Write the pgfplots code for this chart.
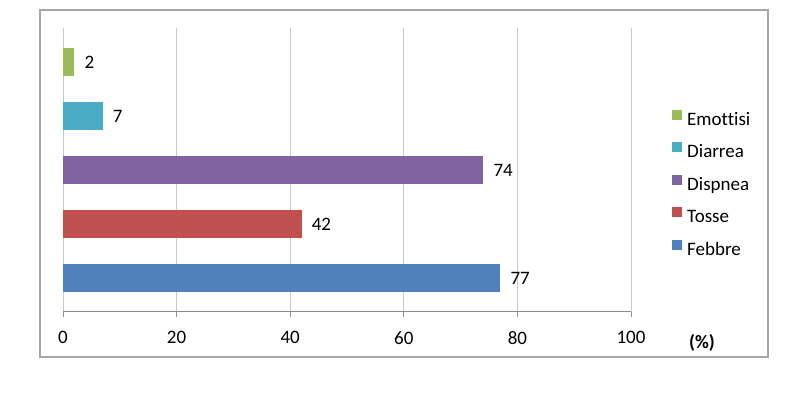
\documentclass[border=0pt]{standalone}
\usepackage{fontspec}
\setmainfont{Carlito}[Ligatures=NoCommon]
\usepackage{pgfplots}
\pgfplotsset{compat=1.18}
\definecolor{cFeb}{HTML}{4F81BD}
\definecolor{cTos}{HTML}{C0504D}
\definecolor{cDis}{HTML}{8064A2}
\definecolor{cDia}{HTML}{4BACC6}
\definecolor{cEmo}{HTML}{9BBB59}
\definecolor{gridc}{HTML}{C8C8C8}
\definecolor{axc}{HTML}{8C8C8C}
\definecolor{framec}{HTML}{A6A6A6}
\begin{document}
\begin{tikzpicture}[font=\fontsize{19bp}{22bp}\selectfont]
\path (0,0) rectangle (800bp,401bp);
\draw[framec, line width=1.3bp] (40bp,44bp) rectangle (768bp,391bp);
\begin{axis}[
  at={(63bp,89bp)}, anchor=south west,
  scale only axis, width=568bp, height=284bp,
  xbar, bar width=28bp, bar shift=0pt,
  xmin=0, xmax=100, ymin=-0.63, ymax=4.63,
  xtick={0,20,40,60,80,100},
  ytick=\empty,
  axis y line=none,
  axis x line*=bottom,
  x axis line style={axc, line width=1bp, -},
  xtick style={axc, line width=0.8bp},
  tick align=outside, major tick length=5bp,
  xmajorgrids, grid style={gridc, line width=1bp},
  /pgf/number format/assume math mode=true,
  xticklabel style={inner sep=0pt, yshift=-14bp, font=\fontsize{19bp}{22bp}\selectfont},
  nodes near coords,
  every node near coord/.append style={anchor=west, inner sep=0pt, xshift=10bp, font=\fontsize{19bp}{22bp}\selectfont, black},
  reverse legend,
  legend image code/.code={\fill[#1,draw=none] (0bp,1.5bp) rectangle (10bp,11.5bp);},
  legend style={at={(rel axis cs:1.0722,0.7122)}, anchor=north west, draw=none, fill=none, inner sep=0pt,
    font=\fontsize{19bp}{22bp}\selectfont,
    nodes={inner sep=0pt, text height=12bp, text depth=4bp},
    row sep=13bp, column sep=5bp},
  legend cell align=left,
  clip=false,
]
\addplot[fill=cFeb, draw=none] coordinates {(77,0)};
\addlegendentry{Febbre}
\addplot[fill=cTos, draw=none] coordinates {(42,1)};
\addlegendentry{Tosse}
\addplot[fill=cDis, draw=none] coordinates {(74,2)};
\addlegendentry{Dispnea}
\addplot[fill=cDia, draw=none] coordinates {(7,3)};
\addlegendentry{Diarrea}
\addplot[fill=cEmo, draw=none] coordinates {(2,4)};
\addlegendentry{Emottisi}
\end{axis}
\node[font=\fontsize{19bp}{22bp}\selectfont\bfseries] at (702bp,58bp) {(\%)};
\end{tikzpicture}
\end{document}
